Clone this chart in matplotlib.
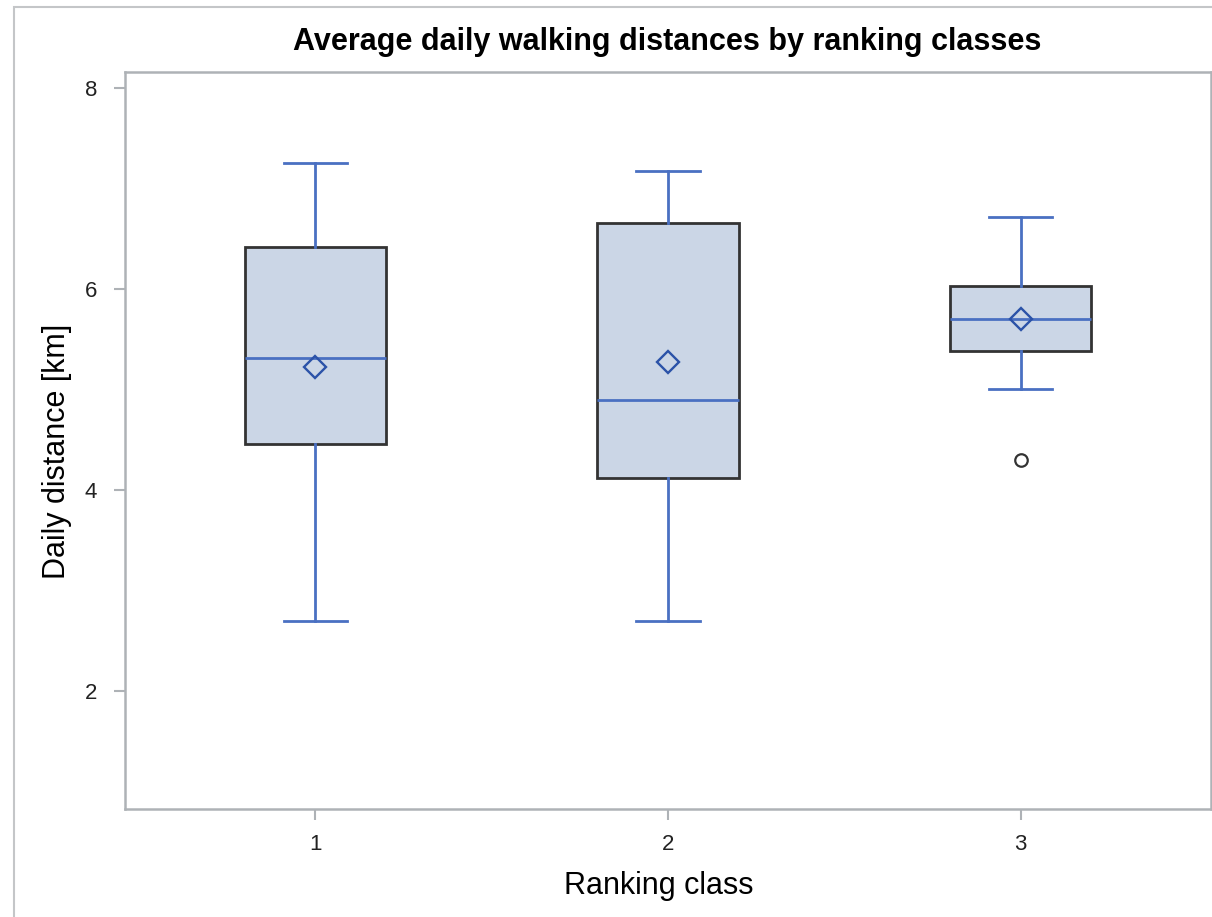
import matplotlib
matplotlib.use("Agg")
import matplotlib.pyplot as plt
from matplotlib.patches import Rectangle

plt.rcParams['font.family'] = ['Liberation Sans', 'DejaVu Sans']

# Data
classes = [1, 2, 3]
whisker_low = [2.70, 2.70, 5.01]
q1 = [4.46, 4.12, 5.39]
median = [5.32, 4.90, 5.70]
q3 = [6.42, 6.66, 6.03]
whisker_high = [7.25, 7.18, 6.72]
means = [5.23, 5.28, 5.70]
outliers = [[], [], [4.30]]

title = "Average daily walking distances by ranking classes"
xlabel = "Ranking class"
ylabel = "Daily distance [km]"
yticks = [2, 4, 6, 8]

W, H = 1212, 917
fig = plt.figure(figsize=(W / 100, H / 100), dpi=100)
ax = fig.add_axes([125 / W, 1 - 809 / H, (1211 - 125) / W, (809 - 72) / H])

stats = []
for i in range(len(classes)):
    stats.append(dict(med=median[i], q1=q1[i], q3=q3[i], whislo=whisker_low[i],
                      whishi=whisker_high[i], mean=means[i], fliers=outliers[i],
                      label=str(classes[i])))

blue = '#4A70C2'
ax.bxp(stats, positions=classes, widths=0.4, showmeans=True, patch_artist=True,
       capwidths=0.18,
       boxprops=dict(facecolor='#CBD6E6', edgecolor='#333333', linewidth=2.0),
       whiskerprops=dict(color=blue, linewidth=2.0),
       capprops=dict(color=blue, linewidth=2.0),
       medianprops=dict(color=blue, linewidth=2.0),
       meanprops=dict(marker='D', markersize=11, markerfacecolor='none',
                      markeredgecolor='#2B52A8', markeredgewidth=1.7),
       flierprops=dict(marker='o', markersize=9, markerfacecolor='none',
                       markeredgecolor='#333333', markeredgewidth=1.6))

ax.set_xlim(0.46, 3.54)
ax.set_ylim(0.83, 8.16)
ax.set_yticks(yticks)
ax.set_yticklabels([str(t) for t in yticks])
ax.set_xticks(classes)
ax.set_xticklabels([str(c) for c in classes])

for s in ax.spines.values():
    s.set_color('#AEB2B6')
    s.set_linewidth(1.8)
ax.tick_params(axis='both', colors='#AEB2B6', length=8, width=1.5,
               labelsize=16, labelcolor='#222222')
ax.tick_params(axis='y', pad=12)
ax.tick_params(axis='x', pad=10)

fig.text(667 / W, 1 - 42 / H, title, ha='center', va='center', fontsize=22,
         fontweight='bold', color='black')
fig.text(659 / W, 1 - 886 / H, xlabel, ha='center', va='center', fontsize=22,
         color='black')
fig.text(57 / W, 1 - 451 / H, ylabel, ha='center', va='center', fontsize=22,
         rotation=90, color='black')

# outer frame
fig.patches.append(Rectangle((14 / W, -0.05), 1.2, 1.05 - 7 / H,
                             transform=fig.transFigure, fill=False,
                             edgecolor='#C4C6C8', linewidth=1.5, clip_on=False))

fig.savefig('out.png', dpi=100)
